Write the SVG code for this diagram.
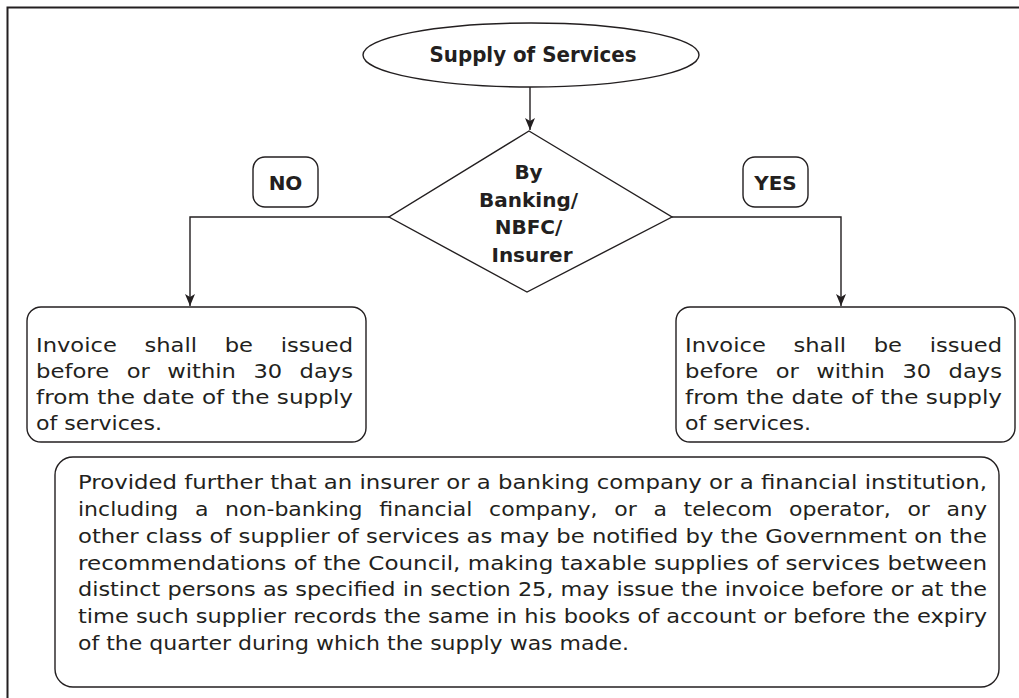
<svg xmlns="http://www.w3.org/2000/svg" width="1019" height="698" viewBox="0 0 1019 698">
<style>
.frame{fill:none;stroke:#231f20;stroke-width:2}
.shape{fill:#fff;stroke:#231f20;stroke-width:1.4}
.conn{fill:none;stroke:#231f20;stroke-width:1.4}
.bold{font-family:"DejaVu Sans","Liberation Sans",sans-serif;font-weight:bold;fill:#231f20}
.body{font-family:"DejaVu Sans","Liberation Sans",sans-serif;font-size:20px;fill:#231f20}
</style>
<defs>
<marker id="arr" viewBox="0 0 12 10" refX="12" refY="5" markerWidth="12" markerHeight="10" markerUnits="userSpaceOnUse" orient="auto">
<path d="M0,0 L12,5 L0,10 L3,5 z" fill="#231f20"/>
</marker>
</defs>
<rect width="1019" height="698" fill="#fff"/>
<path class="frame" d="M7.5,698 V7.5 H1019"/>

<g id="connectors">
<path class="conn" d="M530,87 V130" marker-end="url(#arr)"/>
<path class="conn" d="M389,217 H190 V306" marker-end="url(#arr)"/>
<path class="conn" d="M672,217 H841 V306" marker-end="url(#arr)"/>
</g>

<g id="start">
<ellipse class="shape" cx="531" cy="55" rx="168" ry="32"/>
<text class="bold" x="533" y="62" font-size="22" text-anchor="middle" textLength="207" lengthAdjust="spacingAndGlyphs">Supply of Services</text>
</g>

<g id="decision">
<polygon class="shape" points="529,131 672,217 527,292 389,217"/>
<text class="bold" font-size="20" text-anchor="middle">
<tspan x="532" y="179">By</tspan>
<tspan x="532" y="206.5">Banking/</tspan>
<tspan x="532" y="234">NBFC/</tspan>
<tspan x="532" y="261.5">Insurer</tspan>
</text>
</g>

<g id="label-no">
<rect class="shape" x="253" y="157" width="65" height="50" rx="12"/>
<text class="bold" x="285.5" y="190" font-size="20" text-anchor="middle">NO</text>
</g>

<g id="label-yes">
<rect class="shape" x="743" y="157" width="65" height="50" rx="12"/>
<text class="bold" x="775.5" y="190" font-size="20" text-anchor="middle">YES</text>
</g>

<g id="invoice-no">
<rect class="shape" x="27" y="307" width="339" height="135" rx="14"/>
<text class="body" y="352">
<tspan x="36" textLength="80.8" lengthAdjust="spacingAndGlyphs">Invoice</tspan>
<tspan x="144.5" textLength="52.5" lengthAdjust="spacingAndGlyphs">shall</tspan>
<tspan x="224.7" textLength="28.3" lengthAdjust="spacingAndGlyphs">be</tspan>
<tspan x="280.7" textLength="72.4" lengthAdjust="spacingAndGlyphs">issued</tspan>
</text>
<text class="body" y="378">
<tspan x="36" textLength="73.2" lengthAdjust="spacingAndGlyphs">before</tspan>
<tspan x="126.7" textLength="23.1" lengthAdjust="spacingAndGlyphs">or</tspan>
<tspan x="167.3" textLength="68.6" lengthAdjust="spacingAndGlyphs">within</tspan>
<tspan x="253.4" textLength="28.7" lengthAdjust="spacingAndGlyphs">30</tspan>
<tspan x="299.6" textLength="53.4" lengthAdjust="spacingAndGlyphs">days</tspan>
</text>
<text class="body" x="36" y="404" textLength="317" lengthAdjust="spacingAndGlyphs">from the date of the supply</text>
<text class="body" x="36" y="430" textLength="126" lengthAdjust="spacingAndGlyphs">of services.</text>
</g>

<g id="invoice-yes">
<rect class="shape" x="676" y="307" width="339" height="135" rx="14"/>
<text class="body" y="352">
<tspan x="685" textLength="80.8" lengthAdjust="spacingAndGlyphs">Invoice</tspan>
<tspan x="793.5" textLength="52.5" lengthAdjust="spacingAndGlyphs">shall</tspan>
<tspan x="873.7" textLength="28.3" lengthAdjust="spacingAndGlyphs">be</tspan>
<tspan x="929.7" textLength="72.4" lengthAdjust="spacingAndGlyphs">issued</tspan>
</text>
<text class="body" y="378">
<tspan x="685" textLength="73.2" lengthAdjust="spacingAndGlyphs">before</tspan>
<tspan x="775.7" textLength="23.1" lengthAdjust="spacingAndGlyphs">or</tspan>
<tspan x="816.3" textLength="68.6" lengthAdjust="spacingAndGlyphs">within</tspan>
<tspan x="902.4" textLength="28.7" lengthAdjust="spacingAndGlyphs">30</tspan>
<tspan x="948.6" textLength="53.4" lengthAdjust="spacingAndGlyphs">days</tspan>
</text>
<text class="body" x="685" y="404" textLength="317" lengthAdjust="spacingAndGlyphs">from the date of the supply</text>
<text class="body" x="685" y="430" textLength="126" lengthAdjust="spacingAndGlyphs">of services.</text>
</g>

<g id="proviso">
<rect class="shape" x="55" y="457" width="944" height="230" rx="18"/>
<text class="body" x="78" y="489" textLength="909" lengthAdjust="spacingAndGlyphs">Provided further that an insurer or a banking company or a financial institution,</text>
<text class="body" y="516">
<tspan x="78" textLength="100.2" lengthAdjust="spacingAndGlyphs">including</tspan>
<tspan x="194.9" textLength="13.5" lengthAdjust="spacingAndGlyphs">a</tspan>
<tspan x="225.1" textLength="137.5" lengthAdjust="spacingAndGlyphs">non-banking</tspan>
<tspan x="379.3" textLength="93.1" lengthAdjust="spacingAndGlyphs">financial</tspan>
<tspan x="489.1" textLength="108.4" lengthAdjust="spacingAndGlyphs">company,</tspan>
<tspan x="614.2" textLength="22.5" lengthAdjust="spacingAndGlyphs">or</tspan>
<tspan x="653.4" textLength="13.5" lengthAdjust="spacingAndGlyphs">a</tspan>
<tspan x="683.6" textLength="88.8" lengthAdjust="spacingAndGlyphs">telecom</tspan>
<tspan x="789.1" textLength="101.6" lengthAdjust="spacingAndGlyphs">operator,</tspan>
<tspan x="907.4" textLength="22.5" lengthAdjust="spacingAndGlyphs">or</tspan>
<tspan x="946.6" textLength="40.5" lengthAdjust="spacingAndGlyphs">any</tspan>
</text>
<text class="body" x="78" y="543" textLength="909" lengthAdjust="spacingAndGlyphs">other class of supplier of services as may be notified by the Government on the</text>
<text class="body" x="78" y="569.5" textLength="909" lengthAdjust="spacingAndGlyphs">recommendations of the Council, making taxable supplies of services between</text>
<text class="body" x="78" y="596" textLength="909" lengthAdjust="spacingAndGlyphs">distinct persons as specified in section 25, may issue the invoice before or at the</text>
<text class="body" x="78" y="623" textLength="909" lengthAdjust="spacingAndGlyphs">time such supplier records the same in his books of account or before the expiry</text>
<text class="body" x="78" y="649.5" textLength="551" lengthAdjust="spacingAndGlyphs">of the quarter during which the supply was made.</text>
</g>
</svg>
